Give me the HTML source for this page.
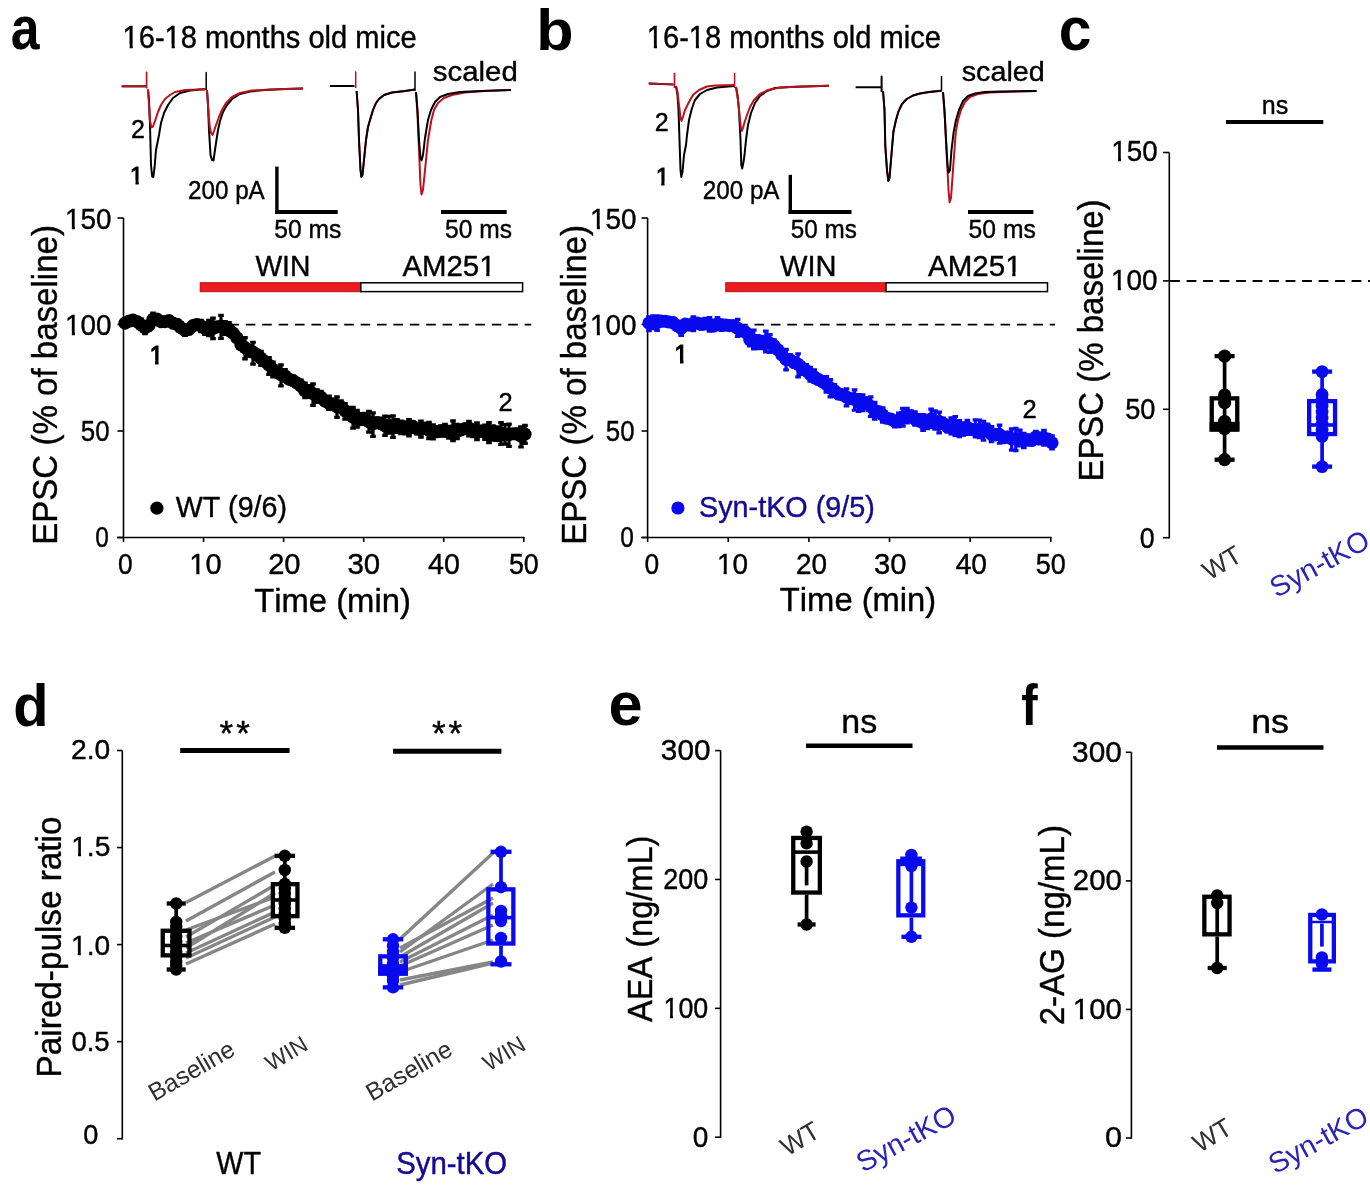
<!DOCTYPE html>
<html><head><meta charset="utf-8"><title>Figure</title>
<style>html,body{margin:0;padding:0;background:#fff;width:1370px;height:1200px;overflow:hidden}svg{display:block;will-change:transform}text{font-kerning:none;font-variant-ligatures:none}</style>
</head><body>
<svg width="1370" height="1200" viewBox="0 0 1370 1200" font-family='"Liberation Sans", sans-serif' stroke-linecap="butt">
<rect width="1370" height="1200" fill="#fff"/>
<text x="10.78" y="49.3" font-size="61" font-weight="bold" textLength="28.79" lengthAdjust="spacingAndGlyphs">a</text>
<text x="536.27" y="49.8" font-size="58" font-weight="bold" textLength="37.34" lengthAdjust="spacingAndGlyphs">b</text>
<text x="1058.7" y="50" font-size="61" font-weight="bold" textLength="32.72" lengthAdjust="spacingAndGlyphs">c</text>
<text x="13.13" y="726.4" font-size="58.5" font-weight="bold" textLength="35.28" lengthAdjust="spacingAndGlyphs">d</text>
<text x="608.61" y="725.2" font-size="61" font-weight="bold" textLength="34.09" lengthAdjust="spacingAndGlyphs">e</text>
<text x="1021.36" y="724.5" font-size="58" font-weight="bold" textLength="16.45" lengthAdjust="spacingAndGlyphs">f</text>
<text x="122.6" y="48" font-size="30.5" stroke="#000" stroke-width="0.4" textLength="294.09" lengthAdjust="spacingAndGlyphs">16-18 months old mice</text><rect x="123.23" y="44.62" width="6.38" height="4.78" fill="#fff"/><rect x="132.78" y="44.62" width="6.15" height="4.78" fill="#fff"/><rect x="165.25" y="44.62" width="6.38" height="4.78" fill="#fff"/><rect x="174.8" y="44.62" width="6.15" height="4.78" fill="#fff"/>
<line x1="123.5" y1="218" x2="123.5" y2="538.25" stroke="#000" stroke-width="1.6"/>
<line x1="117.5" y1="537.5" x2="123.5" y2="537.5" stroke="#000" stroke-width="1.6"/>
<text x="95.34" y="546.7" font-size="30.2" stroke="#000" stroke-width="0.4" textLength="13.61" lengthAdjust="spacingAndGlyphs">0</text>
<line x1="117.5" y1="431" x2="123.5" y2="431" stroke="#000" stroke-width="1.6"/>
<text x="80.77" y="440.7" font-size="30.2" stroke="#000" stroke-width="0.4" textLength="28.74" lengthAdjust="spacingAndGlyphs">50</text>
<line x1="117.5" y1="324.5" x2="123.5" y2="324.5" stroke="#000" stroke-width="1.6"/>
<text x="65.12" y="335.2" font-size="30.2" stroke="#000" stroke-width="0.4" textLength="46.47" lengthAdjust="spacingAndGlyphs">100</text><rect x="65.66" y="331.84" width="6.16" height="4.76" fill="#fff"/><rect x="74.89" y="331.84" width="5.95" height="4.76" fill="#fff"/>
<line x1="117.5" y1="218" x2="123.5" y2="218" stroke="#000" stroke-width="1.6"/>
<text x="65.12" y="229" font-size="30.2" stroke="#000" stroke-width="0.4" textLength="46.47" lengthAdjust="spacingAndGlyphs">150</text><rect x="65.66" y="225.64" width="6.16" height="4.76" fill="#fff"/><rect x="74.89" y="225.64" width="5.95" height="4.76" fill="#fff"/>
<line x1="117" y1="537.5" x2="524.6" y2="537.5" stroke="#000" stroke-width="1.6"/>
<line x1="123.5" y1="537.5" x2="123.5" y2="542" stroke="#000" stroke-width="1.6"/>
<text x="118.07" y="574.2" font-size="30.2" stroke="#000" stroke-width="0.4" textLength="14.66" lengthAdjust="spacingAndGlyphs">0</text>
<line x1="203.56" y1="537.5" x2="203.56" y2="542" stroke="#000" stroke-width="1.6"/>
<text x="189.31" y="574.2" font-size="30.2" stroke="#000" stroke-width="0.4" textLength="32.22" lengthAdjust="spacingAndGlyphs">10</text><rect x="189.94" y="570.84" width="6.36" height="4.76" fill="#fff"/><rect x="199.46" y="570.84" width="6.14" height="4.76" fill="#fff"/>
<line x1="283.62" y1="537.5" x2="283.62" y2="542" stroke="#000" stroke-width="1.6"/>
<text x="268.13" y="574.2" font-size="30.2" stroke="#000" stroke-width="0.4" textLength="32.4" lengthAdjust="spacingAndGlyphs">20</text>
<line x1="363.68" y1="537.5" x2="363.68" y2="542" stroke="#000" stroke-width="1.6"/>
<text x="347.38" y="574.2" font-size="30.2" stroke="#000" stroke-width="0.4" textLength="32.77" lengthAdjust="spacingAndGlyphs">30</text>
<line x1="443.74" y1="537.5" x2="443.74" y2="542" stroke="#000" stroke-width="1.6"/>
<text x="427.94" y="574.2" font-size="30.2" stroke="#000" stroke-width="0.4" textLength="31.88" lengthAdjust="spacingAndGlyphs">40</text>
<line x1="523.8" y1="537.5" x2="523.8" y2="542" stroke="#000" stroke-width="1.6"/>
<text x="508.93" y="574.2" font-size="30.2" stroke="#000" stroke-width="0.4" textLength="29.82" lengthAdjust="spacingAndGlyphs">50</text>
<text x="646.8" y="48" font-size="30.5" stroke="#000" stroke-width="0.4" textLength="294.09" lengthAdjust="spacingAndGlyphs">16-18 months old mice</text><rect x="647.43" y="44.62" width="6.38" height="4.78" fill="#fff"/><rect x="656.98" y="44.62" width="6.15" height="4.78" fill="#fff"/><rect x="689.45" y="44.62" width="6.38" height="4.78" fill="#fff"/><rect x="699" y="44.62" width="6.15" height="4.78" fill="#fff"/>
<line x1="647.6" y1="218" x2="647.6" y2="538.25" stroke="#000" stroke-width="1.6"/>
<line x1="641.6" y1="537.5" x2="647.6" y2="537.5" stroke="#000" stroke-width="1.6"/>
<text x="620.34" y="546.7" font-size="30.2" stroke="#000" stroke-width="0.4" textLength="13.61" lengthAdjust="spacingAndGlyphs">0</text>
<line x1="641.6" y1="431" x2="647.6" y2="431" stroke="#000" stroke-width="1.6"/>
<text x="605.77" y="440.7" font-size="30.2" stroke="#000" stroke-width="0.4" textLength="28.74" lengthAdjust="spacingAndGlyphs">50</text>
<line x1="641.6" y1="324.5" x2="647.6" y2="324.5" stroke="#000" stroke-width="1.6"/>
<text x="590.12" y="335.2" font-size="30.2" stroke="#000" stroke-width="0.4" textLength="46.47" lengthAdjust="spacingAndGlyphs">100</text><rect x="590.66" y="331.84" width="6.16" height="4.76" fill="#fff"/><rect x="599.89" y="331.84" width="5.95" height="4.76" fill="#fff"/>
<line x1="641.6" y1="218" x2="647.6" y2="218" stroke="#000" stroke-width="1.6"/>
<text x="590.12" y="229" font-size="30.2" stroke="#000" stroke-width="0.4" textLength="46.47" lengthAdjust="spacingAndGlyphs">150</text><rect x="590.66" y="225.64" width="6.16" height="4.76" fill="#fff"/><rect x="599.89" y="225.64" width="5.95" height="4.76" fill="#fff"/>
<line x1="641.1" y1="537.5" x2="1051.6" y2="537.5" stroke="#000" stroke-width="1.6"/>
<line x1="647.6" y1="537.5" x2="647.6" y2="542" stroke="#000" stroke-width="1.6"/>
<text x="644.47" y="574.2" font-size="30.2" stroke="#000" stroke-width="0.4" textLength="14.66" lengthAdjust="spacingAndGlyphs">0</text>
<line x1="728.24" y1="537.5" x2="728.24" y2="542" stroke="#000" stroke-width="1.6"/>
<text x="716.91" y="574.2" font-size="30.2" stroke="#000" stroke-width="0.4" textLength="31.08" lengthAdjust="spacingAndGlyphs">10</text><rect x="717.46" y="570.84" width="6.18" height="4.76" fill="#fff"/><rect x="726.71" y="570.84" width="5.96" height="4.76" fill="#fff"/>
<line x1="808.88" y1="537.5" x2="808.88" y2="542" stroke="#000" stroke-width="1.6"/>
<text x="795.89" y="574.2" font-size="30.2" stroke="#000" stroke-width="0.4" textLength="31.1" lengthAdjust="spacingAndGlyphs">20</text>
<line x1="889.52" y1="537.5" x2="889.52" y2="542" stroke="#000" stroke-width="1.6"/>
<text x="874.09" y="574.2" font-size="30.2" stroke="#000" stroke-width="0.4" textLength="32.45" lengthAdjust="spacingAndGlyphs">30</text>
<line x1="970.16" y1="537.5" x2="970.16" y2="542" stroke="#000" stroke-width="1.6"/>
<text x="955.76" y="574.2" font-size="30.2" stroke="#000" stroke-width="0.4" textLength="31.24" lengthAdjust="spacingAndGlyphs">40</text>
<line x1="1050.8" y1="537.5" x2="1050.8" y2="542" stroke="#000" stroke-width="1.6"/>
<text x="1035.82" y="574.2" font-size="30.2" stroke="#000" stroke-width="0.4" textLength="30.04" lengthAdjust="spacingAndGlyphs">50</text>
<text x="254.16" y="611.6" font-size="33.3" stroke="#000" stroke-width="0.4" textLength="156.67" lengthAdjust="spacingAndGlyphs">Time (min)</text>
<text x="779.86" y="611.2" font-size="33.3" stroke="#000" stroke-width="0.4" textLength="156.36" lengthAdjust="spacingAndGlyphs">Time (min)</text>
<text x="56.9" y="544.81" font-size="34.5" stroke="#000" stroke-width="0.4" textLength="319.76" lengthAdjust="spacingAndGlyphs" transform="rotate(-90 56.9 544.81)">EPSC (% of baseline)</text>
<text x="586.5" y="544.81" font-size="34.5" stroke="#000" stroke-width="0.4" textLength="319.76" lengthAdjust="spacingAndGlyphs" transform="rotate(-90 586.5 544.81)">EPSC (% of baseline)</text>
<rect x="200.2" y="282.7" width="160.6" height="9" fill="#ee1a1f" stroke="#b0141e" stroke-width="1"/>
<rect x="360.8" y="282.8" width="161.8" height="8.8" fill="#fff" stroke="#000" stroke-width="1.5"/>
<rect x="725.7" y="282.7" width="160.3" height="9" fill="#ee1a1f" stroke="#b0141e" stroke-width="1"/>
<rect x="886" y="282.8" width="161.5" height="8.8" fill="#fff" stroke="#000" stroke-width="1.5"/>
<text x="255.38" y="275.8" font-size="30.2" stroke="#000" stroke-width="0.4" textLength="55.03" lengthAdjust="spacingAndGlyphs">WIN</text>
<text x="402.44" y="275.8" font-size="30.2" stroke="#000" stroke-width="0.4" textLength="93.11" lengthAdjust="spacingAndGlyphs">AM251</text><rect x="479.87" y="272.44" width="6.44" height="4.76" fill="#fff"/><rect x="489.5" y="272.44" width="6.21" height="4.76" fill="#fff"/>
<text x="779.97" y="275.6" font-size="30.2" stroke="#000" stroke-width="0.4" textLength="56.5" lengthAdjust="spacingAndGlyphs">WIN</text>
<text x="928.04" y="275.6" font-size="30.2" stroke="#000" stroke-width="0.4" textLength="93.54" lengthAdjust="spacingAndGlyphs">AM251</text><rect x="1005.83" y="272.24" width="6.46" height="4.76" fill="#fff"/><rect x="1015.5" y="272.24" width="6.23" height="4.76" fill="#fff"/>
<line x1="131" y1="324.6" x2="531.3" y2="324.6" stroke="#000" stroke-width="1.8" stroke-dasharray="9.6 6.8"/>
<line x1="672.5" y1="324.6" x2="1055" y2="324.6" stroke="#000" stroke-width="1.8" stroke-dasharray="9.6 6.8"/>
<circle cx="156.9" cy="508.2" r="6.6" fill="#000"/>
<text x="175.67" y="517" font-size="30" stroke="#000" stroke-width="0.4" textLength="111.3" lengthAdjust="spacingAndGlyphs">WT (9/6)</text>
<circle cx="677.9" cy="508" r="6.6" fill="#0a0aee"/>
<text x="699.09" y="517.2" font-size="30" fill="#140a90" stroke="#140a90" stroke-width="0.4" textLength="175.69" lengthAdjust="spacingAndGlyphs">Syn-tKO (9/5)</text>
<text x="149.45" y="364" font-size="25" stroke="#000" stroke-width="1.1">1</text><rect x="149.78" y="360.68" width="5.31" height="5.07" fill="#fff"/><rect x="158.6" y="360.68" width="5.11" height="5.07" fill="#fff"/>
<text x="498.61" y="410.8" font-size="25.5" stroke="#000" stroke-width="0.4">2</text>
<text x="674.35" y="362.6" font-size="25" stroke="#000" stroke-width="1.1">1</text><rect x="674.68" y="359.28" width="5.31" height="5.07" fill="#fff"/><rect x="683.5" y="359.28" width="5.11" height="5.07" fill="#fff"/>
<text x="1022.41" y="417.8" font-size="25.5" stroke="#000" stroke-width="0.4">2</text>
<text x="130.9" y="137.8" font-size="25" stroke="#000" stroke-width="0.4">2</text>
<text x="129.86" y="183.9" font-size="24.5" stroke="#000" stroke-width="0.9">1</text><rect x="130.15" y="180.72" width="5.32" height="4.83" fill="#fff"/><rect x="138.73" y="180.72" width="5.13" height="4.83" fill="#fff"/>
<text x="654.85" y="131.2" font-size="25" stroke="#000" stroke-width="0.4">2</text>
<text x="655.66" y="185" font-size="24.5" stroke="#000" stroke-width="0.9">1</text><rect x="655.95" y="181.82" width="5.32" height="4.83" fill="#fff"/><rect x="664.53" y="181.82" width="5.13" height="4.83" fill="#fff"/>
<line x1="276.9" y1="166.6" x2="276.9" y2="214" stroke="#000" stroke-width="3.4"/>
<line x1="275.2" y1="212" x2="337.7" y2="212" stroke="#000" stroke-width="4"/>
<line x1="790.3" y1="174.8" x2="790.3" y2="214" stroke="#000" stroke-width="3.4"/>
<line x1="788.6" y1="212" x2="851.5" y2="212" stroke="#000" stroke-width="4"/>
<line x1="441" y1="212" x2="506.7" y2="212" stroke="#000" stroke-width="4"/>
<line x1="968" y1="212" x2="1033.4" y2="212" stroke="#000" stroke-width="4"/>
<text x="188.08" y="199.2" font-size="26" stroke="#000" stroke-width="0.4" textLength="76.66" lengthAdjust="spacingAndGlyphs">200 pA</text>
<text x="702.68" y="199.3" font-size="26" stroke="#000" stroke-width="0.4" textLength="76.87" lengthAdjust="spacingAndGlyphs">200 pA</text>
<text x="274.21" y="238.4" font-size="26" stroke="#000" stroke-width="0.4" textLength="67.08" lengthAdjust="spacingAndGlyphs">50 ms</text>
<text x="445.12" y="238.4" font-size="26" stroke="#000" stroke-width="0.4" textLength="66.97" lengthAdjust="spacingAndGlyphs">50 ms</text>
<text x="790.83" y="237.6" font-size="26" stroke="#000" stroke-width="0.4" textLength="66.05" lengthAdjust="spacingAndGlyphs">50 ms</text>
<text x="968.61" y="238.4" font-size="26" stroke="#000" stroke-width="0.4" textLength="67.18" lengthAdjust="spacingAndGlyphs">50 ms</text>
<text x="432.88" y="80.7" font-size="28.5" stroke="#000" stroke-width="0.4" textLength="84.91" lengthAdjust="spacingAndGlyphs">scaled</text>
<text x="961.7" y="80.7" font-size="28.5" stroke="#000" stroke-width="0.4" textLength="83.15" lengthAdjust="spacingAndGlyphs">scaled</text>
<polyline points="121.7,86.3 146.6,86.3" fill="none" stroke="#000" stroke-width="2" stroke-linejoin="round"/>
<polyline points="121.7,86.3 146.6,86.3 146.6,72.4 146.6,88.5" fill="none" stroke="#b8121f" stroke-width="1.7" stroke-linejoin="round"/>
<polyline points="148,89.5 149,100 150,125 151,165 152.2,176.5 153.3,177 154.5,168 156,150 159,135 161,123 164,113 168,105 173,98 180,93 190,90.5 200,89.5 205.5,89.3" fill="none" stroke="#000" stroke-width="2" stroke-linejoin="round"/>
<polyline points="148,89.5 149,105 150,121 151.5,127.3 153,126.5 155,121 158,112 161,105 165,99 170,95 175,92 185,90 205.5,89.3" fill="none" stroke="#b8121f" stroke-width="2" stroke-linejoin="round"/>
<polyline points="206.2,89.5 206.2,72.4 206.2,90" fill="none" stroke="#000" stroke-width="1.5" stroke-linejoin="round"/>
<polyline points="207,90 208,105 209,130 210.5,155 212,160 213.5,160.5 215,150 216,143 218,130 220,121 223,112 227,105 232,99 240,94 250,91.5 265,90 285,89 303,88.5" fill="none" stroke="#000" stroke-width="2" stroke-linejoin="round"/>
<polyline points="207,90 208,105 209.5,125 211,133 212.5,135 214,131 216,125 219,117 222,110 226,103 232,97 240,93 252,90.5 270,89.5 303,88.5" fill="none" stroke="#b8121f" stroke-width="2" stroke-linejoin="round"/>
<polyline points="329.8,86 354.5,86" fill="none" stroke="#000" stroke-width="2" stroke-linejoin="round"/>
<polyline points="355.7,86 355.7,72 355.7,88" fill="none" stroke="#b8121f" stroke-width="1.5" stroke-linejoin="round"/>
<polyline points="356.6,91 358,110 359,140 360.5,170 361.3,177 362.5,175 364,160 366,140 368,127 370,120 373,110 376,103 379,99 384,95 392,92.5 405,91 415,89.5" fill="none" stroke="#b8121f" stroke-width="2" stroke-linejoin="round"/>
<polyline points="356.6,91 358,110 359,140 360.5,170 361.3,176.5 362.5,175 364,160 366,140 368,127 370,120 373,110 376,103 379,99 384,95 392,92.5 405,91 415,89.5" fill="none" stroke="#000" stroke-width="1.9" stroke-linejoin="round"/>
<polyline points="415,89.5 415,72 415,91" fill="none" stroke="#000" stroke-width="1.5" stroke-linejoin="round"/>
<polyline points="416,92 417.5,115 419,150 420.5,185 421.5,194.5 423,190 425,170 428,140 431.4,120 434,110 438,103 444,98 452,95 465,92.5 485,91 511,90" fill="none" stroke="#b8121f" stroke-width="2" stroke-linejoin="round"/>
<polyline points="416,92 417.5,110 419,140 420.5,158 421.5,160.5 423,155 425,138 428,120 431,110 435,102 440,97 448,94 460,92 480,91 511,90" fill="none" stroke="#000" stroke-width="2" stroke-linejoin="round"/>
<polyline points="648.7,83.4 673.2,84.5" fill="none" stroke="#000" stroke-width="2" stroke-linejoin="round"/>
<polyline points="648.7,83.4 673.2,84.5 674.5,84.5 674.5,73.5 674.5,88" fill="none" stroke="#b8121f" stroke-width="1.7" stroke-linejoin="round"/>
<polyline points="676,86 677.5,95 678.5,110 679.5,140 680.5,170 681.3,177 682.5,172 684,155 686,145 687,135 689,120 692,108 695,100 700,94 707,90 717,87.5 734,86" fill="none" stroke="#000" stroke-width="2" stroke-linejoin="round"/>
<polyline points="676,86 677.5,92 679,105 680.5,117 681.5,121 683,117 685,110 689,102 693,95 699,90 707,86.5 715,85.5 734,85" fill="none" stroke="#b8121f" stroke-width="2" stroke-linejoin="round"/>
<polyline points="734.6,86.5 734.6,73.5 734.6,88" fill="none" stroke="#b8121f" stroke-width="1.5" stroke-linejoin="round"/>
<polyline points="736,87 737.5,95 739,110 740.5,140 741.3,165 742.2,168.5 743.5,162 744.5,155 746,140 748,125 751,113 755,103 760,96 767,91 775,88 790,87 829,85.8" fill="none" stroke="#000" stroke-width="2" stroke-linejoin="round"/>
<polyline points="736,87 738,100 739.5,115 740.8,127 741.8,131 743,128 744,124 747,115 750,107 754,100 760,94 768,90 780,87.5 800,86.5 829,85.8" fill="none" stroke="#b8121f" stroke-width="2" stroke-linejoin="round"/>
<polyline points="855.6,87.2 881.6,87.2 881.6,76.6 881.6,91.9" fill="none" stroke="#000" stroke-width="2" stroke-linejoin="round"/>
<polyline points="883,91 884.5,110 885.3,146 887,170 888.3,180.8 889.5,178 891,160 893.4,131.7 896,120 898.5,111.3 902,104 906.7,99 913,95.5 920,93.5 929,92 941.5,90.8" fill="none" stroke="#b8121f" stroke-width="2" stroke-linejoin="round"/>
<polyline points="883,91 884.5,110 885.3,146 887,170 888.3,180.8 889.5,178 891,160 893.4,131.7 896,120 898.5,111.3 902,104 906.7,99 913,95.5 920,93.5 929,92 941.5,90.8" fill="none" stroke="#000" stroke-width="1.9" stroke-linejoin="round"/>
<polyline points="941.5,90.8 941.5,76.6 941.5,91" fill="none" stroke="#000" stroke-width="1.5" stroke-linejoin="round"/>
<polyline points="943,92 945,120 947,160 948.5,190 949.6,202.3 951,198 953,170 955.8,131.7 958,120 961,110 965,102 970,97 978,94 990,92.5 1036.5,90.9" fill="none" stroke="#b8121f" stroke-width="2" stroke-linejoin="round"/>
<polyline points="943,92 944.5,110 946,140 947.5,165 948.6,172.6 950,170 951.5,150 953.7,131.7 956,120 959,110 963,101 968,96 975,93.5 984.4,92 1000,91.5 1036.5,90.9" fill="none" stroke="#000" stroke-width="2" stroke-linejoin="round"/>
<path d="M125 319.38V327.12M122.2 320.58h5.6M122.2 325.92h5.6M129 315.37V326.42M126.2 316.57h5.6M126.2 325.22h5.6M133 314.64V324.69M130.2 315.84h5.6M130.2 323.49h5.6M137 318.25V324.4M134.2 319.45h5.6M134.2 323.2h5.6M141 317.64V330.83M138.2 318.84h5.6M138.2 329.63h5.6M145 321.59V334.96M142.2 322.79h5.6M142.2 333.76h5.6M149 320.36V331.28M146.2 321.56h5.6M146.2 330.08h5.6M153 311.92V325.89M150.2 313.12h5.6M150.2 324.69h5.6M157 315.61V322.52M154.2 316.81h5.6M154.2 321.32h5.6M161 317.69V325.63M158.2 318.89h5.6M158.2 324.43h5.6M165 316.8V326.62M162.2 318h5.6M162.2 325.42h5.6M169 317.28V323.48M166.2 318.48h5.6M166.2 322.28h5.6M173 318.03V327.93M170.2 319.23h5.6M170.2 326.73h5.6M177 318.99V329.1M174.2 320.19h5.6M174.2 327.9h5.6M181 321.39V333.71M178.2 322.59h5.6M178.2 332.51h5.6M185 324.6V336.69M182.2 325.8h5.6M182.2 335.49h5.6M189 325V334.73M186.2 326.2h5.6M186.2 333.53h5.6M193 320.51V331.22M190.2 321.71h5.6M190.2 330.02h5.6M197 319.26V329.15M194.2 320.46h5.6M194.2 327.95h5.6M201 319.1V332.94M198.2 320.3h5.6M198.2 331.74h5.6M205 321.36V335.6M202.2 322.56h5.6M202.2 334.4h5.6M209 319.23V336.78M206.2 320.43h5.6M206.2 335.58h5.6M213 316.83V339.88M210.2 318.03h5.6M210.2 338.68h5.6M217 321.88V332.19M214.2 323.08h5.6M214.2 330.99h5.6M221 314.19V339.63M218.2 315.39h5.6M218.2 338.43h5.6M225 320.3V335.59M222.2 321.5h5.6M222.2 334.39h5.6M229 321.4V336.27M226.2 322.6h5.6M226.2 335.07h5.6M233 328.24V338.66M230.2 329.44h5.6M230.2 337.46h5.6M237 331.53V343.97M234.2 332.73h5.6M234.2 342.77h5.6M241 339.69V349.79M238.2 340.89h5.6M238.2 348.59h5.6M245 336.5V360.17M242.2 337.7h5.6M242.2 358.97h5.6M249 344.33V357.28M246.2 345.53h5.6M246.2 356.08h5.6M253 341.04V365.35M250.2 342.24h5.6M250.2 364.15h5.6M257 348.93V359.95M254.2 350.13h5.6M254.2 358.75h5.6M261 350.1V366.67M258.2 351.3h5.6M258.2 365.47h5.6M265 357.1V366.02M262.2 358.3h5.6M262.2 364.82h5.6M269 356.42V375.5M266.2 357.62h5.6M266.2 374.3h5.6M273 360.88V378.01M270.2 362.08h5.6M270.2 376.81h5.6M277 367.14V377.73M274.2 368.34h5.6M274.2 376.53h5.6M281 363.62V387.05M278.2 364.82h5.6M278.2 385.85h5.6M285 368.42V382.21M282.2 369.62h5.6M282.2 381.01h5.6M289 374.13V383.21M286.2 375.33h5.6M286.2 382.01h5.6M293 374.79V385.86M290.2 375.99h5.6M290.2 384.66h5.6M297 378.62V386.99M294.2 379.82h5.6M294.2 385.79h5.6M301 378.84V391.92M298.2 380.04h5.6M298.2 390.72h5.6M305 381.81V398.74M302.2 383.01h5.6M302.2 397.54h5.6M309 384.45V398.28M306.2 385.65h5.6M306.2 397.08h5.6M313 382.77V406.65M310.2 383.97h5.6M310.2 405.45h5.6M317 388.59V403.5M314.2 389.79h5.6M314.2 402.3h5.6M321 390.19V403.67M318.2 391.39h5.6M318.2 402.47h5.6M325 395.44V405.77M322.2 396.64h5.6M322.2 404.57h5.6M329 394.95V410.67M326.2 396.15h5.6M326.2 409.47h5.6M333 399.18V408.64M330.2 400.38h5.6M330.2 407.44h5.6M337 395.73V418.54M334.2 396.93h5.6M334.2 417.34h5.6M341 399.6V413.14M338.2 400.8h5.6M338.2 411.94h5.6M345 402.32V420.26M342.2 403.52h5.6M342.2 419.06h5.6M349 406.17V419.29M346.2 407.37h5.6M346.2 418.09h5.6M353 406.23V429.35M350.2 407.43h5.6M350.2 428.15h5.6M357 409.24V428.24M354.2 410.44h5.6M354.2 427.04h5.6M361 412.39V425.37M358.2 413.59h5.6M358.2 424.17h5.6M365 412.24V424.79M362.2 413.44h5.6M362.2 423.59h5.6M369 410.15V433.26M366.2 411.35h5.6M366.2 432.06h5.6M373 411.65V437.64M370.2 412.85h5.6M370.2 436.44h5.6M377 416.69V428.33M374.2 417.89h5.6M374.2 427.13h5.6M381 417.18V429.54M378.2 418.38h5.6M378.2 428.34h5.6M385 415V436.52M382.2 416.2h5.6M382.2 435.32h5.6M389 415.04V434.29M386.2 416.24h5.6M386.2 433.09h5.6M393 414.6V438.52M390.2 415.8h5.6M390.2 437.32h5.6M397 418.43V433.56M394.2 419.63h5.6M394.2 432.36h5.6M401 420V434.83M398.2 421.2h5.6M398.2 433.63h5.6M405 420.57V435.21M402.2 421.77h5.6M402.2 434.01h5.6M409 418.51V437.07M406.2 419.71h5.6M406.2 435.87h5.6M413 420.78V432.96M410.2 421.98h5.6M410.2 431.76h5.6M417 423.23V435.15M414.2 424.43h5.6M414.2 433.95h5.6M421 419.96V438.26M418.2 421.16h5.6M418.2 437.06h5.6M425 422.66V432.56M422.2 423.86h5.6M422.2 431.36h5.6M429 421.04V439.88M426.2 422.24h5.6M426.2 438.68h5.6M433 423.55V440.21M430.2 424.75h5.6M430.2 439.01h5.6M437 425.64V437.2M434.2 426.84h5.6M434.2 436h5.6M441 424.56V437.39M438.2 425.76h5.6M438.2 436.19h5.6M445 423.18V437.34M442.2 424.38h5.6M442.2 436.14h5.6M449 425.19V439.37M446.2 426.39h5.6M446.2 438.17h5.6M453 419.59V441.8M450.2 420.79h5.6M450.2 440.6h5.6M457 423.12V439.75M454.2 424.32h5.6M454.2 438.55h5.6M461 425.21V434.38M458.2 426.41h5.6M458.2 433.18h5.6M465 424.01V433.61M462.2 425.21h5.6M462.2 432.41h5.6M469 420.17V436.99M466.2 421.37h5.6M466.2 435.79h5.6M473 424.02V437.97M470.2 425.22h5.6M470.2 436.77h5.6M477 421.62V440.75M474.2 422.82h5.6M474.2 439.55h5.6M481 424.98V437.14M478.2 426.18h5.6M478.2 435.94h5.6M485 423.88V440.7M482.2 425.08h5.6M482.2 439.5h5.6M489 421.31V443.74M486.2 422.51h5.6M486.2 442.54h5.6M493 424.61V441.24M490.2 425.81h5.6M490.2 440.04h5.6M497 425.69V441.58M494.2 426.89h5.6M494.2 440.38h5.6M501 421.52V445.56M498.2 422.72h5.6M498.2 444.36h5.6M505 423.28V445.3M502.2 424.48h5.6M502.2 444.1h5.6M509 422.89V447.61M506.2 424.09h5.6M506.2 446.41h5.6M513 428.36V439.06M510.2 429.56h5.6M510.2 437.86h5.6M517 427.69V439.22M514.2 428.89h5.6M514.2 438.02h5.6M521 425.77V448.18M518.2 426.97h5.6M518.2 446.98h5.6M525 424.25V444.63M522.2 425.45h5.6M522.2 443.43h5.6" stroke="#000" stroke-width="3.2" fill="none"/>
<circle cx="125" cy="323.14" r="6.6" fill="#000"/>
<circle cx="129" cy="321.05" r="6.6" fill="#000"/>
<circle cx="133" cy="320.17" r="6.6" fill="#000"/>
<circle cx="137" cy="321.6" r="6.6" fill="#000"/>
<circle cx="141" cy="324.77" r="6.6" fill="#000"/>
<circle cx="145" cy="327.73" r="6.6" fill="#000"/>
<circle cx="149" cy="325.34" r="6.6" fill="#000"/>
<circle cx="153" cy="319.21" r="6.6" fill="#000"/>
<circle cx="157" cy="319.2" r="6.6" fill="#000"/>
<circle cx="161" cy="321.6" r="6.6" fill="#000"/>
<circle cx="165" cy="321.67" r="6.6" fill="#000"/>
<circle cx="169" cy="320.57" r="6.6" fill="#000"/>
<circle cx="173" cy="323.17" r="6.6" fill="#000"/>
<circle cx="177" cy="324.26" r="6.6" fill="#000"/>
<circle cx="181" cy="327.88" r="6.6" fill="#000"/>
<circle cx="185" cy="330.22" r="6.6" fill="#000"/>
<circle cx="189" cy="329.44" r="6.6" fill="#000"/>
<circle cx="193" cy="325.6" r="6.6" fill="#000"/>
<circle cx="197" cy="324.71" r="6.6" fill="#000"/>
<circle cx="201" cy="325.92" r="6.6" fill="#000"/>
<circle cx="205" cy="328.21" r="6.6" fill="#000"/>
<circle cx="209" cy="328.08" r="6.6" fill="#000"/>
<circle cx="213" cy="328.42" r="6.6" fill="#000"/>
<circle cx="217" cy="326.83" r="6.6" fill="#000"/>
<circle cx="221" cy="326.14" r="6.6" fill="#000"/>
<circle cx="225" cy="327.69" r="6.6" fill="#000"/>
<circle cx="229" cy="329.37" r="6.6" fill="#000"/>
<circle cx="233" cy="333.18" r="6.6" fill="#000"/>
<circle cx="237" cy="337.89" r="6.6" fill="#000"/>
<circle cx="241" cy="344.79" r="6.6" fill="#000"/>
<circle cx="245" cy="347.63" r="6.6" fill="#000"/>
<circle cx="249" cy="350.92" r="6.6" fill="#000"/>
<circle cx="253" cy="352.18" r="6.6" fill="#000"/>
<circle cx="257" cy="354.75" r="6.6" fill="#000"/>
<circle cx="261" cy="358.24" r="6.6" fill="#000"/>
<circle cx="265" cy="361.63" r="6.6" fill="#000"/>
<circle cx="269" cy="365.17" r="6.6" fill="#000"/>
<circle cx="273" cy="369.25" r="6.6" fill="#000"/>
<circle cx="277" cy="372.04" r="6.6" fill="#000"/>
<circle cx="281" cy="374.68" r="6.6" fill="#000"/>
<circle cx="285" cy="375.91" r="6.6" fill="#000"/>
<circle cx="289" cy="379.1" r="6.6" fill="#000"/>
<circle cx="293" cy="380.5" r="6.6" fill="#000"/>
<circle cx="297" cy="383.12" r="6.6" fill="#000"/>
<circle cx="301" cy="386.07" r="6.6" fill="#000"/>
<circle cx="305" cy="390.92" r="6.6" fill="#000"/>
<circle cx="309" cy="391.56" r="6.6" fill="#000"/>
<circle cx="313" cy="393.64" r="6.6" fill="#000"/>
<circle cx="317" cy="396.72" r="6.6" fill="#000"/>
<circle cx="321" cy="397.26" r="6.6" fill="#000"/>
<circle cx="325" cy="401.15" r="6.6" fill="#000"/>
<circle cx="329" cy="403.41" r="6.6" fill="#000"/>
<circle cx="333" cy="403.89" r="6.6" fill="#000"/>
<circle cx="337" cy="406.71" r="6.6" fill="#000"/>
<circle cx="341" cy="406.85" r="6.6" fill="#000"/>
<circle cx="345" cy="410.82" r="6.6" fill="#000"/>
<circle cx="349" cy="412.35" r="6.6" fill="#000"/>
<circle cx="353" cy="417.12" r="6.6" fill="#000"/>
<circle cx="357" cy="419.29" r="6.6" fill="#000"/>
<circle cx="361" cy="419.55" r="6.6" fill="#000"/>
<circle cx="365" cy="418.83" r="6.6" fill="#000"/>
<circle cx="369" cy="421.83" r="6.6" fill="#000"/>
<circle cx="373" cy="423.56" r="6.6" fill="#000"/>
<circle cx="377" cy="422.84" r="6.6" fill="#000"/>
<circle cx="381" cy="423.21" r="6.6" fill="#000"/>
<circle cx="385" cy="425.8" r="6.6" fill="#000"/>
<circle cx="389" cy="425.54" r="6.6" fill="#000"/>
<circle cx="393" cy="425.92" r="6.6" fill="#000"/>
<circle cx="397" cy="426.51" r="6.6" fill="#000"/>
<circle cx="401" cy="426.99" r="6.6" fill="#000"/>
<circle cx="405" cy="428.04" r="6.6" fill="#000"/>
<circle cx="409" cy="428.45" r="6.6" fill="#000"/>
<circle cx="413" cy="426.41" r="6.6" fill="#000"/>
<circle cx="417" cy="428.83" r="6.6" fill="#000"/>
<circle cx="421" cy="429.39" r="6.6" fill="#000"/>
<circle cx="425" cy="428.15" r="6.6" fill="#000"/>
<circle cx="429" cy="430.41" r="6.6" fill="#000"/>
<circle cx="433" cy="431.3" r="6.6" fill="#000"/>
<circle cx="437" cy="431.72" r="6.6" fill="#000"/>
<circle cx="441" cy="430.86" r="6.6" fill="#000"/>
<circle cx="445" cy="430.83" r="6.6" fill="#000"/>
<circle cx="449" cy="432.34" r="6.6" fill="#000"/>
<circle cx="453" cy="430.88" r="6.6" fill="#000"/>
<circle cx="457" cy="431.38" r="6.6" fill="#000"/>
<circle cx="461" cy="429.85" r="6.6" fill="#000"/>
<circle cx="465" cy="428.54" r="6.6" fill="#000"/>
<circle cx="469" cy="428.22" r="6.6" fill="#000"/>
<circle cx="473" cy="430.97" r="6.6" fill="#000"/>
<circle cx="477" cy="432" r="6.6" fill="#000"/>
<circle cx="481" cy="431.35" r="6.6" fill="#000"/>
<circle cx="485" cy="432.19" r="6.6" fill="#000"/>
<circle cx="489" cy="432.65" r="6.6" fill="#000"/>
<circle cx="493" cy="432.9" r="6.6" fill="#000"/>
<circle cx="497" cy="433.58" r="6.6" fill="#000"/>
<circle cx="501" cy="433.08" r="6.6" fill="#000"/>
<circle cx="505" cy="434.84" r="6.6" fill="#000"/>
<circle cx="509" cy="434.46" r="6.6" fill="#000"/>
<circle cx="513" cy="433.77" r="6.6" fill="#000"/>
<circle cx="517" cy="433.99" r="6.6" fill="#000"/>
<circle cx="521" cy="436.15" r="6.6" fill="#000"/>
<circle cx="525" cy="434.12" r="6.6" fill="#000"/>
<path d="M649 315.63V331.84M646.2 316.83h5.6M646.2 330.64h5.6M653.03 314.76V329.97M650.23 315.96h5.6M650.23 328.77h5.6M657.06 314.72V331.67M654.26 315.92h5.6M654.26 330.47h5.6M661.09 315.96V326.3M658.29 317.16h5.6M658.29 325.1h5.6M665.12 317.25V324.92M662.32 318.45h5.6M662.32 323.72h5.6M669.15 318.91V325.17M666.35 320.11h5.6M666.35 323.97h5.6M673.18 319.55V325.52M670.38 320.75h5.6M670.38 324.32h5.6M677.21 320.34V330.5M674.41 321.54h5.6M674.41 329.3h5.6M681.24 321.39V336.58M678.44 322.59h5.6M678.44 335.38h5.6M685.27 319.77V327.63M682.47 320.97h5.6M682.47 326.43h5.6M689.3 320.78V328.84M686.5 321.98h5.6M686.5 327.64h5.6M693.33 315.74V331.82M690.53 316.94h5.6M690.53 330.62h5.6M697.36 319.45V327.57M694.56 320.65h5.6M694.56 326.37h5.6M701.39 318.02V329.96M698.59 319.22h5.6M698.59 328.76h5.6M705.42 317.1V329.79M702.62 318.3h5.6M702.62 328.59h5.6M709.45 316.45V332.25M706.65 317.65h5.6M706.65 331.05h5.6M713.48 322.77V330.09M710.68 323.97h5.6M710.68 328.89h5.6M717.51 316.42V330.91M714.71 317.62h5.6M714.71 329.71h5.6M721.54 319.12V331.63M718.74 320.32h5.6M718.74 330.43h5.6M725.57 321.43V328.77M722.77 322.63h5.6M722.77 327.57h5.6M729.6 320.33V330.25M726.8 321.53h5.6M726.8 329.05h5.6M733.63 319.9V331.47M730.83 321.1h5.6M730.83 330.27h5.6M737.66 318.15V337.69M734.86 319.35h5.6M734.86 336.49h5.6M741.69 324.93V336.24M738.89 326.13h5.6M738.89 335.04h5.6M745.72 325.97V337.49M742.92 327.17h5.6M742.92 336.29h5.6M749.75 330.84V347.03M746.95 332.04h5.6M746.95 345.83h5.6M753.78 328.86V350.07M750.98 330.06h5.6M750.98 348.87h5.6M757.81 334.37V349.83M755.01 335.57h5.6M755.01 348.63h5.6M761.84 335.04V349.96M759.04 336.24h5.6M759.04 348.76h5.6M765.87 330.02V353.01M763.07 331.22h5.6M763.07 351.81h5.6M769.9 333.43V353.56M767.1 334.63h5.6M767.1 352.36h5.6M773.93 338.61V351.55M771.13 339.81h5.6M771.13 350.35h5.6M777.96 344.81V355.35M775.16 346.01h5.6M775.16 354.15h5.6M781.99 349.19V359.68M779.19 350.39h5.6M779.19 358.48h5.6M786.02 348.25V371.06M783.22 349.45h5.6M783.22 369.86h5.6M790.05 353.48V365.59M787.25 354.68h5.6M787.25 364.39h5.6M794.08 356.82V368.06M791.28 358.02h5.6M791.28 366.86h5.6M798.11 352.53V378.17M795.31 353.73h5.6M795.31 376.97h5.6M802.14 361.71V375.55M799.34 362.91h5.6M799.34 374.35h5.6M806.17 363.4V376.32M803.37 364.6h5.6M803.37 375.12h5.6M810.2 366.22V382.35M807.4 367.42h5.6M807.4 381.15h5.6M814.23 368.69V383.62M811.43 369.89h5.6M811.43 382.42h5.6M818.26 374.29V384.43M815.46 375.49h5.6M815.46 383.23h5.6M822.29 376.82V385.79M819.49 378.02h5.6M819.49 384.59h5.6M826.32 375.47V393.35M823.52 376.67h5.6M823.52 392.15h5.6M830.35 378.5V398.17M827.55 379.7h5.6M827.55 396.97h5.6M834.38 383.32V397.65M831.58 384.52h5.6M831.58 396.45h5.6M838.41 388.16V399.91M835.61 389.36h5.6M835.61 398.71h5.6M842.44 389.91V400.21M839.64 391.11h5.6M839.64 399.01h5.6M846.47 387.77V407.05M843.67 388.97h5.6M843.67 405.85h5.6M850.5 392.96V404.1M847.7 394.16h5.6M847.7 402.9h5.6M854.53 388.62V411.46M851.73 389.82h5.6M851.73 410.26h5.6M858.56 393.41V412.56M855.76 394.61h5.6M855.76 411.36h5.6M862.59 393.62V411.97M859.79 394.82h5.6M859.79 410.77h5.6M866.62 397.07V407.76M863.82 398.27h5.6M863.82 406.56h5.6M870.65 395.77V417.56M867.85 396.97h5.6M867.85 416.36h5.6M874.68 401.22V420.28M871.88 402.42h5.6M871.88 419.08h5.6M878.71 407.03V416.62M875.91 408.23h5.6M875.91 415.42h5.6M882.74 406.64V423.3M879.94 407.84h5.6M879.94 422.1h5.6M886.77 413.25V423.72M883.97 414.45h5.6M883.97 422.52h5.6M890.8 414.03V423.67M888 415.23h5.6M888 422.47h5.6M894.83 415.33V427.98M892.03 416.53h5.6M892.03 426.78h5.6M898.86 411.81V427.84M896.06 413.01h5.6M896.06 426.64h5.6M902.89 407.15V427.44M900.09 408.35h5.6M900.09 426.24h5.6M906.92 407.15V424.22M904.12 408.35h5.6M904.12 423.02h5.6M910.95 409.66V423.09M908.15 410.86h5.6M908.15 421.89h5.6M914.98 410.64V426.45M912.18 411.84h5.6M912.18 425.25h5.6M919.01 413.29V426.77M916.21 414.49h5.6M916.21 425.57h5.6M923.04 413.38V431.72M920.24 414.58h5.6M920.24 430.52h5.6M927.07 414.03V429.89M924.27 415.23h5.6M924.27 428.69h5.6M931.1 407.85V428.9M928.3 409.05h5.6M928.3 427.7h5.6M935.13 409.61V430.43M932.33 410.81h5.6M932.33 429.23h5.6M939.16 410.83V434.12M936.36 412.03h5.6M936.36 432.92h5.6M943.19 416.93V429.2M940.39 418.13h5.6M940.39 428h5.6M947.22 420.74V433.1M944.42 421.94h5.6M944.42 431.9h5.6M951.25 416.76V435.15M948.45 417.96h5.6M948.45 433.95h5.6M955.28 415.31V436.65M952.48 416.51h5.6M952.48 435.45h5.6M959.31 419.32V437.82M956.51 420.52h5.6M956.51 436.62h5.6M963.34 421.67V436.41M960.54 422.87h5.6M960.54 435.21h5.6M967.37 419.27V435.49M964.57 420.47h5.6M964.57 434.29h5.6M971.4 423.92V434.68M968.6 425.12h5.6M968.6 433.48h5.6M975.43 418.6V438.05M972.63 419.8h5.6M972.63 436.85h5.6M979.46 418.82V438.77M976.66 420.02h5.6M976.66 437.57h5.6M983.49 420.03V441.31M980.69 421.23h5.6M980.69 440.11h5.6M987.52 422.78V437.05M984.72 423.98h5.6M984.72 435.85h5.6M991.55 425.51V442.85M988.75 426.71h5.6M988.75 441.65h5.6M995.58 428.32V440.27M992.78 429.52h5.6M992.78 439.07h5.6M999.61 423.87V444.47M996.81 425.07h5.6M996.81 443.27h5.6M1003.64 431.38V443.53M1000.84 432.58h5.6M1000.84 442.33h5.6M1007.67 431.07V442.61M1004.87 432.27h5.6M1004.87 441.41h5.6M1011.7 427.77V451.42M1008.9 428.97h5.6M1008.9 450.22h5.6M1015.73 427.16V451.86M1012.93 428.36h5.6M1012.93 450.66h5.6M1019.76 429.01V447.02M1016.96 430.21h5.6M1016.96 445.82h5.6M1023.79 432.18V448.74M1020.99 433.38h5.6M1020.99 447.54h5.6M1027.82 433.56V445.66M1025.02 434.76h5.6M1025.02 444.46h5.6M1031.85 435V445.85M1029.05 436.2h5.6M1029.05 444.65h5.6M1035.88 430.17V444.28M1033.08 431.37h5.6M1033.08 443.08h5.6M1039.91 431.79V445.09M1037.11 432.99h5.6M1037.11 443.89h5.6M1043.94 429.27V446.26M1041.14 430.47h5.6M1041.14 445.06h5.6M1047.97 433.39V444.15M1045.17 434.59h5.6M1045.17 442.95h5.6M1052 434.58V450.11M1049.2 435.78h5.6M1049.2 448.91h5.6" stroke="#0a0aee" stroke-width="3.2" fill="none"/>
<circle cx="649" cy="323.04" r="6.6" fill="#0a0aee"/>
<circle cx="653.03" cy="322.52" r="6.6" fill="#0a0aee"/>
<circle cx="657.06" cy="322.67" r="6.6" fill="#0a0aee"/>
<circle cx="661.09" cy="321.11" r="6.6" fill="#0a0aee"/>
<circle cx="665.12" cy="321.23" r="6.6" fill="#0a0aee"/>
<circle cx="669.15" cy="322.01" r="6.6" fill="#0a0aee"/>
<circle cx="673.18" cy="322.64" r="6.6" fill="#0a0aee"/>
<circle cx="677.21" cy="325.91" r="6.6" fill="#0a0aee"/>
<circle cx="681.24" cy="328.33" r="6.6" fill="#0a0aee"/>
<circle cx="685.27" cy="324.1" r="6.6" fill="#0a0aee"/>
<circle cx="689.3" cy="325.13" r="6.6" fill="#0a0aee"/>
<circle cx="693.33" cy="323.3" r="6.6" fill="#0a0aee"/>
<circle cx="697.36" cy="323.2" r="6.6" fill="#0a0aee"/>
<circle cx="701.39" cy="324.52" r="6.6" fill="#0a0aee"/>
<circle cx="705.42" cy="323.54" r="6.6" fill="#0a0aee"/>
<circle cx="709.45" cy="324.14" r="6.6" fill="#0a0aee"/>
<circle cx="713.48" cy="326.19" r="6.6" fill="#0a0aee"/>
<circle cx="717.51" cy="323.73" r="6.6" fill="#0a0aee"/>
<circle cx="721.54" cy="324.88" r="6.6" fill="#0a0aee"/>
<circle cx="725.57" cy="325.08" r="6.6" fill="#0a0aee"/>
<circle cx="729.6" cy="325.65" r="6.6" fill="#0a0aee"/>
<circle cx="733.63" cy="325.91" r="6.6" fill="#0a0aee"/>
<circle cx="737.66" cy="328.35" r="6.6" fill="#0a0aee"/>
<circle cx="741.69" cy="330.77" r="6.6" fill="#0a0aee"/>
<circle cx="745.72" cy="332.34" r="6.6" fill="#0a0aee"/>
<circle cx="749.75" cy="339.47" r="6.6" fill="#0a0aee"/>
<circle cx="753.78" cy="340.37" r="6.6" fill="#0a0aee"/>
<circle cx="757.81" cy="342.11" r="6.6" fill="#0a0aee"/>
<circle cx="761.84" cy="342.49" r="6.6" fill="#0a0aee"/>
<circle cx="765.87" cy="341.89" r="6.6" fill="#0a0aee"/>
<circle cx="769.9" cy="343.23" r="6.6" fill="#0a0aee"/>
<circle cx="773.93" cy="345.71" r="6.6" fill="#0a0aee"/>
<circle cx="777.96" cy="349.84" r="6.6" fill="#0a0aee"/>
<circle cx="781.99" cy="354.91" r="6.6" fill="#0a0aee"/>
<circle cx="786.02" cy="359.28" r="6.6" fill="#0a0aee"/>
<circle cx="790.05" cy="359.8" r="6.6" fill="#0a0aee"/>
<circle cx="794.08" cy="362.5" r="6.6" fill="#0a0aee"/>
<circle cx="798.11" cy="364.24" r="6.6" fill="#0a0aee"/>
<circle cx="802.14" cy="368.04" r="6.6" fill="#0a0aee"/>
<circle cx="806.17" cy="370.58" r="6.6" fill="#0a0aee"/>
<circle cx="810.2" cy="374.28" r="6.6" fill="#0a0aee"/>
<circle cx="814.23" cy="376.97" r="6.6" fill="#0a0aee"/>
<circle cx="818.26" cy="379.47" r="6.6" fill="#0a0aee"/>
<circle cx="822.29" cy="381.49" r="6.6" fill="#0a0aee"/>
<circle cx="826.32" cy="384.36" r="6.6" fill="#0a0aee"/>
<circle cx="830.35" cy="387.93" r="6.6" fill="#0a0aee"/>
<circle cx="834.38" cy="390.74" r="6.6" fill="#0a0aee"/>
<circle cx="838.41" cy="393.78" r="6.6" fill="#0a0aee"/>
<circle cx="842.44" cy="394.74" r="6.6" fill="#0a0aee"/>
<circle cx="846.47" cy="396.98" r="6.6" fill="#0a0aee"/>
<circle cx="850.5" cy="398.5" r="6.6" fill="#0a0aee"/>
<circle cx="854.53" cy="399.38" r="6.6" fill="#0a0aee"/>
<circle cx="858.56" cy="402.29" r="6.6" fill="#0a0aee"/>
<circle cx="862.59" cy="403.32" r="6.6" fill="#0a0aee"/>
<circle cx="866.62" cy="402.57" r="6.6" fill="#0a0aee"/>
<circle cx="870.65" cy="406.54" r="6.6" fill="#0a0aee"/>
<circle cx="874.68" cy="410.42" r="6.6" fill="#0a0aee"/>
<circle cx="878.71" cy="411.56" r="6.6" fill="#0a0aee"/>
<circle cx="882.74" cy="414.91" r="6.6" fill="#0a0aee"/>
<circle cx="886.77" cy="418.25" r="6.6" fill="#0a0aee"/>
<circle cx="890.8" cy="419.09" r="6.6" fill="#0a0aee"/>
<circle cx="894.83" cy="421.37" r="6.6" fill="#0a0aee"/>
<circle cx="898.86" cy="420.02" r="6.6" fill="#0a0aee"/>
<circle cx="902.89" cy="416.78" r="6.6" fill="#0a0aee"/>
<circle cx="906.92" cy="416.47" r="6.6" fill="#0a0aee"/>
<circle cx="910.95" cy="416.06" r="6.6" fill="#0a0aee"/>
<circle cx="914.98" cy="419.4" r="6.6" fill="#0a0aee"/>
<circle cx="919.01" cy="419.8" r="6.6" fill="#0a0aee"/>
<circle cx="923.04" cy="422.95" r="6.6" fill="#0a0aee"/>
<circle cx="927.07" cy="422.01" r="6.6" fill="#0a0aee"/>
<circle cx="931.1" cy="419.05" r="6.6" fill="#0a0aee"/>
<circle cx="935.13" cy="421.13" r="6.6" fill="#0a0aee"/>
<circle cx="939.16" cy="421.48" r="6.6" fill="#0a0aee"/>
<circle cx="943.19" cy="423.44" r="6.6" fill="#0a0aee"/>
<circle cx="947.22" cy="426.82" r="6.6" fill="#0a0aee"/>
<circle cx="951.25" cy="425.19" r="6.6" fill="#0a0aee"/>
<circle cx="955.28" cy="425.96" r="6.6" fill="#0a0aee"/>
<circle cx="959.31" cy="429.1" r="6.6" fill="#0a0aee"/>
<circle cx="963.34" cy="429.81" r="6.6" fill="#0a0aee"/>
<circle cx="967.37" cy="427.46" r="6.6" fill="#0a0aee"/>
<circle cx="971.4" cy="429.48" r="6.6" fill="#0a0aee"/>
<circle cx="975.43" cy="429.4" r="6.6" fill="#0a0aee"/>
<circle cx="979.46" cy="429.61" r="6.6" fill="#0a0aee"/>
<circle cx="983.49" cy="429.88" r="6.6" fill="#0a0aee"/>
<circle cx="987.52" cy="430.07" r="6.6" fill="#0a0aee"/>
<circle cx="991.55" cy="434.43" r="6.6" fill="#0a0aee"/>
<circle cx="995.58" cy="434.89" r="6.6" fill="#0a0aee"/>
<circle cx="999.61" cy="434.63" r="6.6" fill="#0a0aee"/>
<circle cx="1003.64" cy="437.75" r="6.6" fill="#0a0aee"/>
<circle cx="1007.67" cy="436.99" r="6.6" fill="#0a0aee"/>
<circle cx="1011.7" cy="438.9" r="6.6" fill="#0a0aee"/>
<circle cx="1015.73" cy="438.51" r="6.6" fill="#0a0aee"/>
<circle cx="1019.76" cy="438.9" r="6.6" fill="#0a0aee"/>
<circle cx="1023.79" cy="440.06" r="6.6" fill="#0a0aee"/>
<circle cx="1027.82" cy="440.21" r="6.6" fill="#0a0aee"/>
<circle cx="1031.85" cy="440.45" r="6.6" fill="#0a0aee"/>
<circle cx="1035.88" cy="436.9" r="6.6" fill="#0a0aee"/>
<circle cx="1039.91" cy="438.24" r="6.6" fill="#0a0aee"/>
<circle cx="1043.94" cy="437.95" r="6.6" fill="#0a0aee"/>
<circle cx="1047.97" cy="439.1" r="6.6" fill="#0a0aee"/>
<circle cx="1052" cy="442.81" r="6.6" fill="#0a0aee"/>
<line x1="1169.3" y1="152.5" x2="1169.3" y2="538.45" stroke="#000" stroke-width="1.6"/>
<line x1="1163" y1="537.7" x2="1169.3" y2="537.7" stroke="#000" stroke-width="1.6"/>
<text x="1139.85" y="547.7" font-size="29.5" stroke="#000" stroke-width="0.4" textLength="14.89" lengthAdjust="spacingAndGlyphs">0</text>
<line x1="1163" y1="409.3" x2="1169.3" y2="409.3" stroke="#000" stroke-width="1.6"/>
<text x="1125.21" y="419.1" font-size="29.5" stroke="#000" stroke-width="0.4" textLength="30.25" lengthAdjust="spacingAndGlyphs">50</text>
<line x1="1163" y1="280.9" x2="1169.3" y2="280.9" stroke="#000" stroke-width="1.6"/>
<text x="1111.12" y="290.2" font-size="29.5" stroke="#000" stroke-width="0.4" textLength="46.47" lengthAdjust="spacingAndGlyphs">100</text><rect x="1111.66" y="286.9" width="6.16" height="4.7" fill="#fff"/><rect x="1120.89" y="286.9" width="5.95" height="4.7" fill="#fff"/>
<line x1="1163" y1="152.5" x2="1169.3" y2="152.5" stroke="#000" stroke-width="1.6"/>
<text x="1111.33" y="161.2" font-size="29.5" stroke="#000" stroke-width="0.4" textLength="46.25" lengthAdjust="spacingAndGlyphs">150</text><rect x="1111.86" y="157.9" width="6.14" height="4.7" fill="#fff"/><rect x="1121.05" y="157.9" width="5.92" height="4.7" fill="#fff"/>
<line x1="1170.1" y1="281" x2="1370" y2="281" stroke="#000" stroke-width="1.8" stroke-dasharray="9.8 6.7"/>
<text x="1102.8" y="481.6" font-size="34.8" stroke="#000" stroke-width="0.4" textLength="282.15" lengthAdjust="spacingAndGlyphs" transform="rotate(-90 1102.8 481.6)">EPSC (% baseline)</text>
<text x="1261.84" y="113.7" font-size="26.5" stroke="#000" stroke-width="0.4" textLength="26.47" lengthAdjust="spacingAndGlyphs">ns</text>
<line x1="1226" y1="122" x2="1323.3" y2="122" stroke="#000" stroke-width="4"/>
<line x1="1224.6" y1="356.1" x2="1224.6" y2="396.2" stroke="#000" stroke-width="3.7"/>
<line x1="1214.6" y1="356.1" x2="1234.6" y2="356.1" stroke="#000" stroke-width="4.3"/>
<line x1="1224.6" y1="431.6" x2="1224.6" y2="459.7" stroke="#000" stroke-width="3.7"/>
<line x1="1214.6" y1="459.7" x2="1234.6" y2="459.7" stroke="#000" stroke-width="4.3"/>
<rect x="1211.75" y="398.35" width="25.5" height="31.1" fill="none" stroke="#000" stroke-width="4.3"/>
<line x1="1211.75" y1="425" x2="1237.25" y2="425" stroke="#000" stroke-width="3.6"/>
<line x1="1224.6" y1="396" x2="1224.6" y2="431" stroke="#000" stroke-width="3.7"/>
<circle cx="1224.6" cy="356.1" r="6.6" fill="#000"/>
<circle cx="1224.6" cy="395" r="6.6" fill="#000"/>
<circle cx="1224.6" cy="402.5" r="6.6" fill="#000"/>
<circle cx="1224.6" cy="421.5" r="6.6" fill="#000"/>
<circle cx="1224.6" cy="425.5" r="6.6" fill="#000"/>
<circle cx="1224.6" cy="428.5" r="6.6" fill="#000"/>
<circle cx="1224.6" cy="459.7" r="6.6" fill="#000"/>
<rect x="1209.6" y="421.8" width="29.8" height="9.8" fill="#000"/>
<line x1="1322.1" y1="371.6" x2="1322.1" y2="399" stroke="#0a0aee" stroke-width="3.7"/>
<line x1="1312.1" y1="371.6" x2="1332.1" y2="371.6" stroke="#0a0aee" stroke-width="4.3"/>
<line x1="1322.1" y1="436.2" x2="1322.1" y2="466.6" stroke="#0a0aee" stroke-width="3.7"/>
<line x1="1312.1" y1="466.6" x2="1332.1" y2="466.6" stroke="#0a0aee" stroke-width="4.3"/>
<rect x="1309.15" y="401.15" width="25.9" height="32.9" fill="none" stroke="#0a0aee" stroke-width="4.3"/>
<line x1="1309.15" y1="425" x2="1335.05" y2="425" stroke="#0a0aee" stroke-width="3.6"/>
<line x1="1322.1" y1="399" x2="1322.1" y2="436" stroke="#0a0aee" stroke-width="3.7"/>
<circle cx="1322.1" cy="371.6" r="6.4" fill="#0a0aee"/>
<circle cx="1322.1" cy="394.5" r="6.4" fill="#0a0aee"/>
<circle cx="1322.1" cy="400" r="6.4" fill="#0a0aee"/>
<circle cx="1322.1" cy="406" r="6.4" fill="#0a0aee"/>
<circle cx="1322.1" cy="412" r="6.4" fill="#0a0aee"/>
<circle cx="1322.1" cy="418" r="6.4" fill="#0a0aee"/>
<circle cx="1322.1" cy="424" r="6.4" fill="#0a0aee"/>
<circle cx="1322.1" cy="430" r="6.4" fill="#0a0aee"/>
<circle cx="1322.1" cy="436.5" r="6.4" fill="#0a0aee"/>
<circle cx="1322.1" cy="466.6" r="6.4" fill="#0a0aee"/>
<text x="1209.27" y="580.86" font-size="26" fill="#303030" transform="rotate(-31 1209.27 580.86)">WT</text>
<text x="1276.4" y="598.23" font-size="28.75" fill="#2a24b4" transform="rotate(-28.5 1276.4 598.23)">Syn-tKO</text>
<line x1="122.3" y1="750.5" x2="122.3" y2="1139.45" stroke="#000" stroke-width="1.6"/>
<line x1="117" y1="1138.7" x2="122.3" y2="1138.7" stroke="#000" stroke-width="1.6"/>
<text x="83.34" y="1143.6" font-size="27.6" stroke="#000" stroke-width="0.4" textLength="15.12" lengthAdjust="spacingAndGlyphs">0</text>
<line x1="117" y1="1041.65" x2="122.3" y2="1041.65" stroke="#000" stroke-width="1.6"/>
<text x="71.43" y="1051.1" font-size="27.6" stroke="#000" stroke-width="0.4" textLength="38.23" lengthAdjust="spacingAndGlyphs">0.5</text>
<line x1="117" y1="944.6" x2="122.3" y2="944.6" stroke="#000" stroke-width="1.6"/>
<text x="70.99" y="955.1" font-size="27.6" stroke="#000" stroke-width="0.4" textLength="39.1" lengthAdjust="spacingAndGlyphs">1.0</text><rect x="71.55" y="951.94" width="6.21" height="4.56" fill="#fff"/><rect x="80.85" y="951.94" width="5.99" height="4.56" fill="#fff"/>
<line x1="117" y1="847.55" x2="122.3" y2="847.55" stroke="#000" stroke-width="1.6"/>
<text x="71.2" y="855.8" font-size="27.6" stroke="#000" stroke-width="0.4" textLength="39.09" lengthAdjust="spacingAndGlyphs">1.5</text><rect x="71.75" y="852.64" width="6.21" height="4.56" fill="#fff"/><rect x="81.05" y="852.64" width="5.99" height="4.56" fill="#fff"/>
<line x1="117" y1="750.5" x2="122.3" y2="750.5" stroke="#000" stroke-width="1.6"/>
<text x="70.98" y="758.5" font-size="27.6" stroke="#000" stroke-width="0.4" textLength="39.22" lengthAdjust="spacingAndGlyphs">2.0</text>
<text x="61.2" y="1077.43" font-size="34.5" stroke="#000" stroke-width="0.4" textLength="260.93" lengthAdjust="spacingAndGlyphs" transform="rotate(-90 61.2 1077.43)">Paired-pulse ratio</text>
<text x="219.58" y="745.4" font-size="35" stroke="#000" stroke-width="0.4">*</text>
<text x="236.18" y="745.4" font-size="35" stroke="#000" stroke-width="0.4">*</text>
<text x="431.88" y="745.4" font-size="35" stroke="#000" stroke-width="0.4">*</text>
<text x="448.48" y="745.4" font-size="35" stroke="#000" stroke-width="0.4">*</text>
<line x1="180.2" y1="750.5" x2="289.6" y2="750.5" stroke="#000" stroke-width="5"/>
<line x1="393" y1="751.3" x2="501.4" y2="751.3" stroke="#000" stroke-width="5"/>
<line x1="186" y1="902.5" x2="275" y2="856" stroke="#868686" stroke-width="3.4"/>
<line x1="186" y1="921" x2="275" y2="872" stroke="#868686" stroke-width="3.4"/>
<line x1="186" y1="930" x2="275" y2="897" stroke="#868686" stroke-width="3.4"/>
<line x1="186" y1="937" x2="275" y2="885" stroke="#868686" stroke-width="3.4"/>
<line x1="186" y1="943" x2="275" y2="905" stroke="#868686" stroke-width="3.4"/>
<line x1="186" y1="948" x2="275" y2="893" stroke="#868686" stroke-width="3.4"/>
<line x1="186" y1="953" x2="275" y2="912" stroke="#868686" stroke-width="3.4"/>
<line x1="186" y1="958" x2="275" y2="917" stroke="#868686" stroke-width="3.4"/>
<line x1="186" y1="964" x2="275" y2="924" stroke="#868686" stroke-width="3.4"/>
<line x1="400" y1="939" x2="493" y2="853" stroke="#868686" stroke-width="3.4"/>
<line x1="400" y1="948" x2="493" y2="898" stroke="#868686" stroke-width="3.4"/>
<line x1="400" y1="952" x2="493" y2="884" stroke="#868686" stroke-width="3.4"/>
<line x1="400" y1="957" x2="493" y2="903" stroke="#868686" stroke-width="3.4"/>
<line x1="400" y1="962" x2="493" y2="915" stroke="#868686" stroke-width="3.4"/>
<line x1="400" y1="966" x2="493" y2="925" stroke="#868686" stroke-width="3.4"/>
<line x1="400" y1="972" x2="493" y2="940" stroke="#868686" stroke-width="3.4"/>
<line x1="400" y1="980" x2="493" y2="962" stroke="#868686" stroke-width="3.4"/>
<line x1="400" y1="985" x2="493" y2="963" stroke="#868686" stroke-width="3.4"/>
<line x1="176.2" y1="903.5" x2="176.2" y2="928.6" stroke="#000" stroke-width="3.7"/>
<line x1="166.7" y1="903.5" x2="185.7" y2="903.5" stroke="#000" stroke-width="4.3"/>
<line x1="176.2" y1="957.5" x2="176.2" y2="969.5" stroke="#000" stroke-width="3.7"/>
<line x1="166.7" y1="969.5" x2="185.7" y2="969.5" stroke="#000" stroke-width="4.3"/>
<rect x="162.75" y="930.75" width="26.7" height="24.6" fill="none" stroke="#000" stroke-width="4.3"/>
<line x1="162.75" y1="945.5" x2="189.45" y2="945.5" stroke="#000" stroke-width="3.6"/>
<line x1="176.2" y1="928" x2="176.2" y2="957" stroke="#000" stroke-width="3.7"/>
<circle cx="176.2" cy="903.5" r="6.2" fill="#000"/>
<circle cx="176.2" cy="922" r="6.2" fill="#000"/>
<circle cx="176.2" cy="927" r="6.2" fill="#000"/>
<circle cx="176.2" cy="932" r="6.2" fill="#000"/>
<circle cx="176.2" cy="937" r="6.2" fill="#000"/>
<circle cx="176.2" cy="942" r="6.2" fill="#000"/>
<circle cx="176.2" cy="947" r="6.2" fill="#000"/>
<circle cx="176.2" cy="952" r="6.2" fill="#000"/>
<circle cx="176.2" cy="957" r="6.2" fill="#000"/>
<circle cx="176.2" cy="962" r="6.2" fill="#000"/>
<circle cx="176.2" cy="966" r="6.2" fill="#000"/>
<circle cx="176.2" cy="969.5" r="6.2" fill="#000"/>
<line x1="284.8" y1="855.8" x2="284.8" y2="882" stroke="#000" stroke-width="3.7"/>
<line x1="274.55" y1="855.8" x2="295.05" y2="855.8" stroke="#000" stroke-width="4.3"/>
<line x1="284.8" y1="918.3" x2="284.8" y2="927.8" stroke="#000" stroke-width="3.7"/>
<line x1="274.55" y1="927.8" x2="295.05" y2="927.8" stroke="#000" stroke-width="4.3"/>
<rect x="272.85" y="884.15" width="24.6" height="32" fill="none" stroke="#000" stroke-width="4.3"/>
<line x1="272.85" y1="900" x2="297.45" y2="900" stroke="#000" stroke-width="3.6"/>
<line x1="284.8" y1="882" x2="284.8" y2="918" stroke="#000" stroke-width="3.7"/>
<circle cx="284.8" cy="855.8" r="6.2" fill="#000"/>
<circle cx="284.8" cy="870" r="6.2" fill="#000"/>
<circle cx="284.8" cy="884" r="6.2" fill="#000"/>
<circle cx="284.8" cy="889" r="6.2" fill="#000"/>
<circle cx="284.8" cy="894" r="6.2" fill="#000"/>
<circle cx="284.8" cy="899" r="6.2" fill="#000"/>
<circle cx="284.8" cy="904" r="6.2" fill="#000"/>
<circle cx="284.8" cy="909" r="6.2" fill="#000"/>
<circle cx="284.8" cy="914" r="6.2" fill="#000"/>
<circle cx="284.8" cy="919" r="6.2" fill="#000"/>
<circle cx="284.8" cy="924" r="6.2" fill="#000"/>
<circle cx="284.8" cy="927.8" r="6.2" fill="#000"/>
<line x1="393" y1="939.3" x2="393" y2="954.2" stroke="#0a0aee" stroke-width="3.7"/>
<line x1="382.75" y1="939.3" x2="403.25" y2="939.3" stroke="#0a0aee" stroke-width="4.3"/>
<line x1="393" y1="975.7" x2="393" y2="987.4" stroke="#0a0aee" stroke-width="3.7"/>
<line x1="382.75" y1="987.4" x2="403.25" y2="987.4" stroke="#0a0aee" stroke-width="4.3"/>
<rect x="380.25" y="956.35" width="25.5" height="17.2" fill="none" stroke="#0a0aee" stroke-width="4.3"/>
<line x1="380.25" y1="966" x2="405.75" y2="966" stroke="#0a0aee" stroke-width="3.6"/>
<line x1="393" y1="954" x2="393" y2="975" stroke="#0a0aee" stroke-width="3.7"/>
<circle cx="393" cy="939.3" r="6.2" fill="#0a0aee"/>
<circle cx="393" cy="946" r="6.2" fill="#0a0aee"/>
<circle cx="393" cy="952" r="6.2" fill="#0a0aee"/>
<circle cx="393" cy="958" r="6.2" fill="#0a0aee"/>
<circle cx="393" cy="964" r="6.2" fill="#0a0aee"/>
<circle cx="393" cy="970" r="6.2" fill="#0a0aee"/>
<circle cx="393" cy="976" r="6.2" fill="#0a0aee"/>
<circle cx="393" cy="981" r="6.2" fill="#0a0aee"/>
<circle cx="393" cy="987.4" r="6.2" fill="#0a0aee"/>
<rect x="378.1" y="965.5" width="29.8" height="10.2" fill="#0a0aee"/>
<line x1="501" y1="851.8" x2="501" y2="887.2" stroke="#0a0aee" stroke-width="3.7"/>
<line x1="490.5" y1="851.8" x2="511.5" y2="851.8" stroke="#0a0aee" stroke-width="4.3"/>
<line x1="501" y1="945.7" x2="501" y2="964.3" stroke="#0a0aee" stroke-width="3.7"/>
<line x1="490.5" y1="964.3" x2="511.5" y2="964.3" stroke="#0a0aee" stroke-width="4.3"/>
<rect x="488.35" y="889.35" width="25" height="54.2" fill="none" stroke="#0a0aee" stroke-width="4.3"/>
<line x1="488.35" y1="917.6" x2="513.35" y2="917.6" stroke="#0a0aee" stroke-width="3.6"/>
<circle cx="501" cy="851.8" r="6.2" fill="#0a0aee"/>
<circle cx="501" cy="887.2" r="6.2" fill="#0a0aee"/>
<circle cx="501" cy="911" r="6.2" fill="#0a0aee"/>
<circle cx="501" cy="916" r="6.2" fill="#0a0aee"/>
<circle cx="501" cy="921" r="6.2" fill="#0a0aee"/>
<circle cx="501" cy="937.9" r="6.2" fill="#0a0aee"/>
<circle cx="501" cy="961.5" r="6.2" fill="#0a0aee"/>
<text x="154.49" y="1101.68" font-size="24.75" fill="#303030" transform="rotate(-30 154.49 1101.68)">Baseline</text>
<text x="271.27" y="1071.69" font-size="23" fill="#303030" transform="rotate(-31 271.27 1071.69)">WIN</text>
<text x="371.99" y="1101.68" font-size="24.75" fill="#303030" transform="rotate(-30 371.99 1101.68)">Baseline</text>
<text x="488.87" y="1071.69" font-size="23" fill="#303030" transform="rotate(-31 488.87 1071.69)">WIN</text>
<text x="216.37" y="1174" font-size="30.5" stroke="#000" stroke-width="0.4" textLength="44.69" lengthAdjust="spacingAndGlyphs">WT</text>
<text x="396.27" y="1174" font-size="30.5" fill="#140a90" stroke="#140a90" stroke-width="0.4" textLength="110.94" lengthAdjust="spacingAndGlyphs">Syn-tKO</text>
<line x1="720.6" y1="750.6" x2="720.6" y2="1137.95" stroke="#000" stroke-width="1.6"/>
<line x1="715.1" y1="1137.2" x2="720.6" y2="1137.2" stroke="#000" stroke-width="1.6"/>
<text x="692.71" y="1146.5" font-size="29.4" stroke="#000" stroke-width="0.4" textLength="15.59" lengthAdjust="spacingAndGlyphs">0</text>
<line x1="715.1" y1="1008.33" x2="720.6" y2="1008.33" stroke="#000" stroke-width="1.6"/>
<text x="663.52" y="1017.63" font-size="29.4" stroke="#000" stroke-width="0.4" textLength="44.73" lengthAdjust="spacingAndGlyphs">100</text><rect x="663.98" y="1014.34" width="5.98" height="4.7" fill="#fff"/><rect x="672.93" y="1014.34" width="5.77" height="4.7" fill="#fff"/>
<line x1="715.1" y1="879.47" x2="720.6" y2="879.47" stroke="#000" stroke-width="1.6"/>
<text x="663.24" y="888.77" font-size="29.4" stroke="#000" stroke-width="0.4" textLength="45.01" lengthAdjust="spacingAndGlyphs">200</text>
<line x1="715.1" y1="750.6" x2="720.6" y2="750.6" stroke="#000" stroke-width="1.6"/>
<text x="660.87" y="759.9" font-size="29.4" stroke="#000" stroke-width="0.4" textLength="49.59" lengthAdjust="spacingAndGlyphs">300</text>
<text x="652.5" y="1021.96" font-size="34.5" stroke="#000" stroke-width="0.4" textLength="186.28" lengthAdjust="spacingAndGlyphs" transform="rotate(-90 652.5 1021.96)">AEA (ng/mL)</text>
<text x="841.34" y="733.2" font-size="33.5" stroke="#000" stroke-width="0.4" textLength="35.88" lengthAdjust="spacingAndGlyphs">ns</text>
<line x1="806" y1="745.8" x2="912.5" y2="745.8" stroke="#000" stroke-width="4.5"/>
<line x1="806.6" y1="894.7" x2="806.6" y2="924.5" stroke="#000" stroke-width="3.7"/>
<line x1="797.6" y1="924.5" x2="815.6" y2="924.5" stroke="#000" stroke-width="4.3"/>
<rect x="793.25" y="837.95" width="26.6" height="54.6" fill="none" stroke="#000" stroke-width="4.3"/>
<line x1="793.25" y1="852.1" x2="819.85" y2="852.1" stroke="#000" stroke-width="3.6"/>
<line x1="806.6" y1="861.5" x2="806.6" y2="885.4" stroke="#000" stroke-width="3.7"/>
<circle cx="806.6" cy="831.7" r="6.2" fill="#000"/>
<circle cx="806.6" cy="843.4" r="6.2" fill="#000"/>
<circle cx="806.6" cy="861.5" r="6.2" fill="#000"/>
<circle cx="806.6" cy="924.5" r="6.2" fill="#000"/>
<line x1="911.4" y1="917.5" x2="911.4" y2="936.8" stroke="#0a0aee" stroke-width="3.7"/>
<line x1="901.4" y1="936.8" x2="921.4" y2="936.8" stroke="#0a0aee" stroke-width="4.3"/>
<rect x="898.35" y="861.25" width="24.9" height="54.1" fill="none" stroke="#0a0aee" stroke-width="4.3"/>
<line x1="898.35" y1="864.4" x2="923.25" y2="864.4" stroke="#0a0aee" stroke-width="3.6"/>
<line x1="911.4" y1="864.4" x2="911.4" y2="906.4" stroke="#0a0aee" stroke-width="3.7"/>
<circle cx="911.4" cy="855" r="6.2" fill="#0a0aee"/>
<circle cx="911.4" cy="866" r="6.2" fill="#0a0aee"/>
<circle cx="911.4" cy="907.6" r="6.2" fill="#0a0aee"/>
<circle cx="911.4" cy="936.8" r="6.2" fill="#0a0aee"/>
<line x1="900.3" y1="858.5" x2="921.9" y2="858.5" stroke="#0a0aee" stroke-width="4"/>
<text x="787.27" y="1156.76" font-size="26" fill="#303030" transform="rotate(-31 787.27 1156.76)">WT</text>
<text x="862.99" y="1173.06" font-size="28.75" fill="#2a24b4" transform="rotate(-28.5 862.99 1173.06)">Syn-tKO</text>
<line x1="1131.4" y1="752.3" x2="1131.4" y2="1138.75" stroke="#000" stroke-width="1.6"/>
<line x1="1125.9" y1="1138" x2="1131.4" y2="1138" stroke="#000" stroke-width="1.6"/>
<text x="1105.11" y="1147.3" font-size="29.4" stroke="#000" stroke-width="0.4" textLength="16.99" lengthAdjust="spacingAndGlyphs">0</text>
<line x1="1125.9" y1="1009.43" x2="1131.4" y2="1009.43" stroke="#000" stroke-width="1.6"/>
<text x="1072.8" y="1018.73" font-size="29.4" stroke="#000" stroke-width="0.4">100</text><rect x="1073.45" y="1015.44" width="6.44" height="4.7" fill="#fff"/><rect x="1083.09" y="1015.44" width="6.21" height="4.7" fill="#fff"/>
<line x1="1125.9" y1="880.87" x2="1131.4" y2="880.87" stroke="#000" stroke-width="1.6"/>
<text x="1072.8" y="890.17" font-size="29.4" stroke="#000" stroke-width="0.4">200</text>
<line x1="1125.9" y1="752.3" x2="1131.4" y2="752.3" stroke="#000" stroke-width="1.6"/>
<text x="1072.07" y="761.6" font-size="29.4" stroke="#000" stroke-width="0.4" textLength="49.7" lengthAdjust="spacingAndGlyphs">300</text>
<text x="1063.6" y="1025.36" font-size="34.5" stroke="#000" stroke-width="0.4" textLength="200.31" lengthAdjust="spacingAndGlyphs" transform="rotate(-90 1063.6 1025.36)">2-AG (ng/mL)</text>
<text x="1251.23" y="733.3" font-size="33.5" stroke="#000" stroke-width="0.4" textLength="37.77" lengthAdjust="spacingAndGlyphs">ns</text>
<line x1="1217" y1="747.5" x2="1323.5" y2="747.5" stroke="#000" stroke-width="4.5"/>
<line x1="1217.2" y1="936.5" x2="1217.2" y2="968" stroke="#000" stroke-width="3.7"/>
<line x1="1207.7" y1="968" x2="1226.7" y2="968" stroke="#000" stroke-width="4.3"/>
<rect x="1204.35" y="896.75" width="25.2" height="37.6" fill="none" stroke="#000" stroke-width="4.3"/>
<line x1="1217.2" y1="903" x2="1217.2" y2="936" stroke="#000" stroke-width="3.7"/>
<circle cx="1217.2" cy="895.5" r="6.2" fill="#000"/>
<circle cx="1217.2" cy="903" r="6.2" fill="#000"/>
<circle cx="1217.2" cy="968" r="6.2" fill="#000"/>
<line x1="1321.9" y1="963.5" x2="1321.9" y2="969.6" stroke="#0a0aee" stroke-width="3.7"/>
<line x1="1312.4" y1="969.6" x2="1331.4" y2="969.6" stroke="#0a0aee" stroke-width="4.3"/>
<rect x="1310.25" y="914.95" width="23.6" height="46.4" fill="none" stroke="#0a0aee" stroke-width="4.3"/>
<line x1="1321.9" y1="923.6" x2="1321.9" y2="946.6" stroke="#0a0aee" stroke-width="3.7"/>
<circle cx="1321.9" cy="914.5" r="6.2" fill="#0a0aee"/>
<circle cx="1321.9" cy="957.5" r="6.2" fill="#0a0aee"/>
<circle cx="1321.9" cy="963.5" r="6.2" fill="#0a0aee"/>
<line x1="1310" y1="922" x2="1334" y2="922" stroke="#0a0aee" stroke-width="2.5"/>
<text x="1199.42" y="1153.31" font-size="26" fill="#303030" transform="rotate(-31 1199.42 1153.31)">WT</text>
<text x="1275.24" y="1174.46" font-size="28.75" fill="#2a24b4" transform="rotate(-28.5 1275.24 1174.46)">Syn-tKO</text>
</svg>
</body></html>
